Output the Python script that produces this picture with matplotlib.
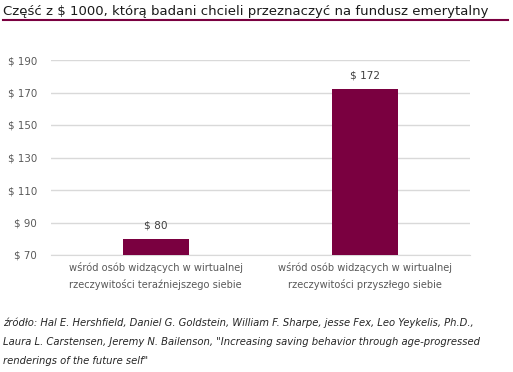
import matplotlib.pyplot as plt
import numpy as np

# data
categories = ['wśród osób widzących w wirtualnej\nrzeczywitości teraźniejszego siebie',
              'wśród osób widzących w wirtualnej\nrzeczywitości przyszłego siebie']
values = [80, 172]
value_labels = ['$ 80', '$ 172']
yticks = [70, 90, 110, 130, 150, 170, 190]
ytick_labels = ['$ 70', '$ 90', '$ 110', '$ 130', '$ 150', '$ 170', '$ 190']

title = 'Część z $ 1000, którą badani chcieli przeznaczyć na fundusz emerytalny'
source = ('źródło: Hal E. Hershfield, Daniel G. Goldstein, William F. Sharpe, jesse Fex, Leo Yeykelis, Ph.D.,\n'
          'Laura L. Carstensen, Jeremy N. Bailenson, "Increasing saving behavior through age-progressed\n'
          'renderings of the future self"')

bar_color = '#7a0040'
text_gray = '#595959'

fig = plt.figure(figsize=(5.13, 3.72), dpi=100)
W, H = 513, 372
ax = fig.add_axes([51 / W, 1 - 255 / H, 419 / W, 195 / H])

x = np.arange(len(categories))
ax.bar(x, values, width=0.315, color=bar_color, zorder=3)
ax.set_xlim(-0.5, 1.5)
ax.set_ylim(70, 190)
ax.set_yticks(yticks)
ax.set_yticklabels(ytick_labels)
ax.set_xticks(x)
ax.set_xticklabels(categories)
ax.yaxis.grid(True, color='#d9d9d9', linewidth=1, zorder=0)
for s in ['top', 'right', 'left']:
    ax.spines[s].set_visible(False)
ax.spines['bottom'].set_color('#d9d9d9')
ax.tick_params(axis='both', length=0, colors=text_gray)
ax.tick_params(axis='y', pad=10, labelsize=7.4)
ax.tick_params(axis='x', pad=5, labelsize=7.1)
for lab in ax.get_xticklabels():
    lab.set_linespacing(1.7)

for xi, v, lab in zip(x, values, value_labels):
    ax.annotate(lab, (xi, v), xytext=(0, 6), textcoords='offset points',
                ha='center', va='bottom', fontsize=7.6, color='#404040')

fig.text(3 / W, 1 - 12 / H, title, fontsize=9.5, color='#1a1a1a', va='center', ha='left')
fig.add_artist(plt.Line2D([3 / W, 508 / W], [1 - 20 / H, 1 - 20 / H], color=bar_color, linewidth=1.5))

fig.text(3 / W, 1 - 342 / H, source, fontsize=7.2, style='italic', color='#262626',
         va='center', ha='left', linespacing=2.1)

fig.savefig('out.png', dpi=100)
